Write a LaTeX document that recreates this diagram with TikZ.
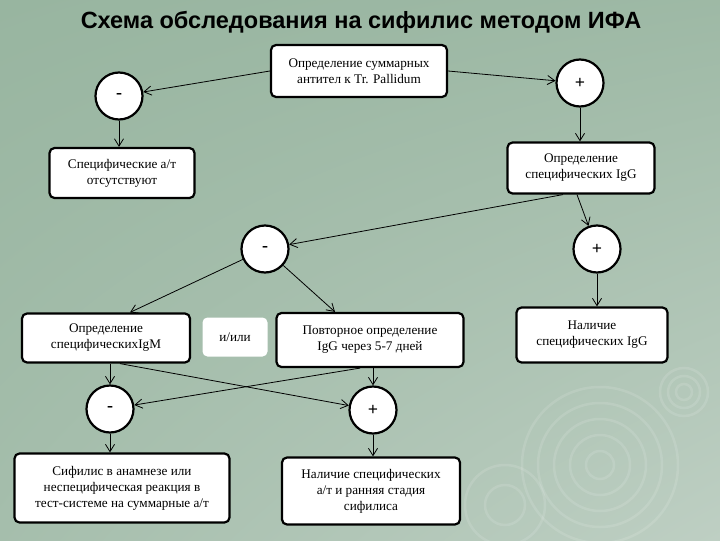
\documentclass[tikz,border=0pt]{standalone}
\usepackage{fontspec}
\setmainfont{Liberation Serif}
\newfontfamily\titlefont{Liberation Sans}
\usetikzlibrary{arrows.meta,positioning,shadings}
\definecolor{bgtop}{RGB}{152,181,160}
\definecolor{bgbot}{RGB}{190,207,195}

\begin{document}
\begin{tikzpicture}[
    x=1pt, y=-1pt,
    box/.style={rectangle, rounded corners=5pt, draw=black, line width=2.2pt, fill=white, align=center, font=\fontsize{13.2}{16}\selectfont, inner sep=2pt},
    sign/.style={circle, draw=black, line width=2.2pt, fill=white, minimum size=47pt, inner sep=0pt, font=\fontsize{18}{18}\selectfont\bfseries},
    arrow/.style={-{Straight Barb[length=2.6mm,width=3.2mm]}, draw=black, line width=0.8pt},
    ring/.style={draw=white, opacity=0.12, line width=2.5pt}
]
\shade[upper left=bgtop, upper right=bgtop!85!bgbot, lower left=bgtop!65!bgbot, lower right=bgbot] (0,0) rectangle (720,540);
\foreach \r in {14,30,46,62,78} \draw[ring] (600,465) circle (\r);
\foreach \r in {8,16,24} \draw[ring] (684,392) circle (\r);
\foreach \r in {20,40} \draw[ring] (505,505) circle (\r);

\node[font=\titlefont\fontsize{23.5}{25}\selectfont\bfseries] (title) at (361,22) {Схема обследования на сифилис методом ИФА};

\node[box, minimum width=176pt, minimum height=52pt] (total) at (359,71) {Определение суммарных\\антител к Tr. Pallidum};
\node[sign] (m1) at (119,96) {-};
\node[sign] (p1) at (580,83) {+};
\node[box, minimum width=145pt, minimum height=50pt] (noab) at (122,173) {Специфические а/т\\отсутствуют};
\node[box, minimum width=147pt, minimum height=51pt] (igg) at (581,168) {Определение\\специфических IgG};
\node[sign] (m2) at (265,249) {-};
\node[sign] (p2) at (597,249) {+};
\node[box, minimum width=168pt, minimum height=49pt] (igm) at (106,338) {Определение\\специфическихIgM};
\node[box, draw=none, minimum width=65pt, minimum height=39pt] (andor) at (235,337) {и/или};
\node[box, minimum width=187pt, minimum height=54pt] (repeat) at (370,340) {Повторное определение\\IgG через 5-7 дней};
\node[box, minimum width=151pt, minimum height=55pt] (iggpos) at (592,335) {Наличие\\специфических IgG};
\node[sign] (m3) at (110,409) {-};
\node[sign] (p3) at (373,410) {+};
\node[box, minimum width=215pt, minimum height=69pt] (hist) at (122,488) {Сифилис в анамнезе или\\неспецифическая реакция в\\тест-системе на суммарные а/т};
\node[box, minimum width=178pt, minimum height=67pt] (early) at (371,491) {Наличие специфических\\а/т и ранняя стадия\\сифилиса};

\draw[arrow] (total.west) -- (m1);
\draw[arrow] (total.east) -- (p1);
\draw[arrow] (m1.south) -- (m1.south |- noab.north);
\draw[arrow] (p1.south) -- (p1.south |- igg.north);
\draw[arrow] ([xshift=-18pt]igg.south) -- (m2);
\draw[arrow] ([xshift=-4pt]igg.south) -- (p2);
\draw[arrow] (m2) -- ([xshift=24pt]igm.north);
\draw[arrow] (m2) -- ([xshift=-35pt]repeat.north);
\draw[arrow] (p2.south) -- (p2.south |- iggpos.north);
\draw[arrow] (m3.north |- igm.south) -- (m3.north);
\draw[arrow] (p3.north |- repeat.south) -- (p3.north);
\draw[arrow] ([xshift=14pt]igm.south) -- (p3);
\draw[arrow] ([xshift=-10pt]repeat.south) -- (m3);
\draw[arrow] (m3.south) -- (m3.south |- hist.north);
\draw[arrow] (p3.south) -- (p3.south |- early.north);
\end{tikzpicture}
\end{document}
